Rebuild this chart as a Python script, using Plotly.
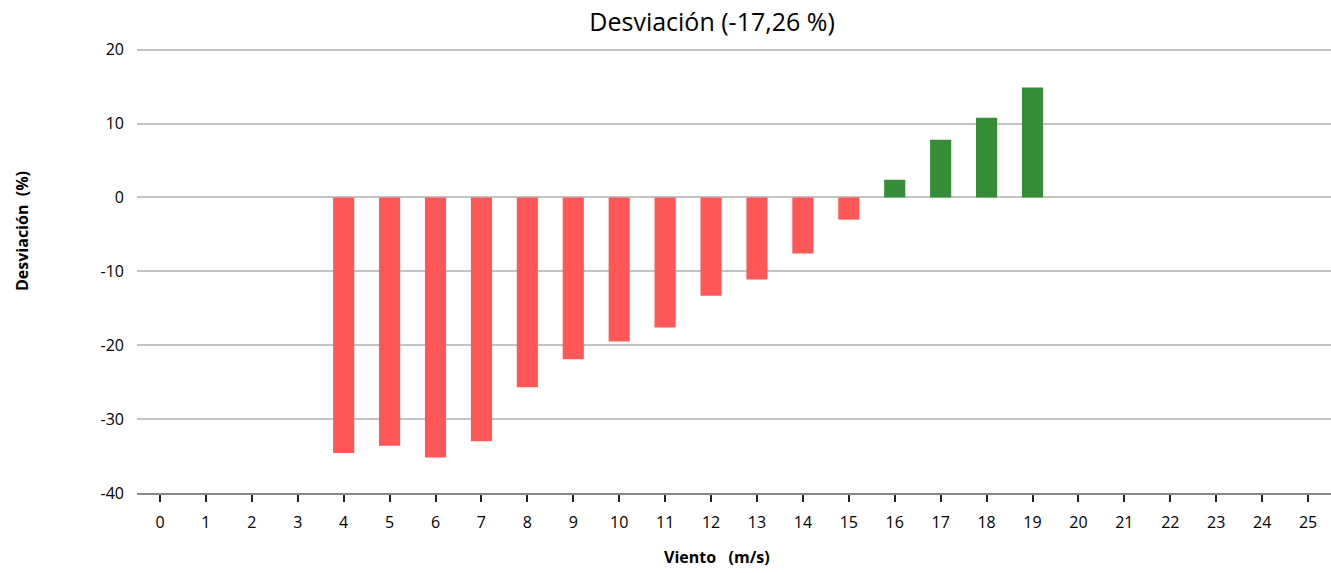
import plotly.graph_objects as go

wind = list(range(0, 26))
bar_wind = [4, 5, 6, 7, 8, 9, 10, 11, 12, 13, 14, 15, 16, 17, 18, 19]
deviation = [-34.6, -33.6, -35.2, -33.0, -25.7, -21.9, -19.5, -17.6, -13.3, -11.1, -7.6, -3.0, 2.4, 7.8, 10.8, 14.9]
y_ticks = [20, 10, 0, -10, -20, -30, -40]
title = "Desviación (-17,26 %)"
x_title = "Viento   (m/s)"
y_title = "Desviación  (%)"

colors = ["#FF5757" if v < 0 else "#368D37" for v in deviation]

fig = go.Figure(go.Bar(x=bar_wind, y=deviation, marker=dict(color=colors, line=dict(width=0)), width=0.46))

font = "Open Sans, Noto Sans, sans-serif"
fig.update_layout(
    width=1331, height=573,
    margin=dict(l=137, r=0, t=46, b=80, autoexpand=False),
    plot_bgcolor="white", paper_bgcolor="white",
    showlegend=False,
    title=dict(text=title, x=0.535, xanchor="center", y=0.962, yanchor="middle",
               font=dict(family=font, size=25, color="#000")),
    font=dict(family=font, color="#000"),
    annotations=[
        dict(text="<b>" + x_title + "</b>", xref="paper", yref="paper",
             x=(717 - 137) / 1194, y=-(557 - 493) / 447, xanchor="center", yanchor="middle",
             showarrow=False, font=dict(size=16, family=font, color="#000")),
        dict(text="<b>" + y_title + "</b>", xref="paper", yref="paper",
             x=-(137 - 22) / 1194, y=(493 - 231) / 447, xanchor="center", yanchor="middle",
             textangle=-90, showarrow=False, font=dict(size=16, family=font, color="#000")),
    ],
)
fig.update_xaxes(
    range=[-0.5, 25.5], tickmode="array", tickvals=wind, ticktext=[str(w) for w in wind],
    showgrid=False, zeroline=False, showline=True, linecolor="#888", linewidth=2,
    ticks="outside", ticklen=7, tickwidth=2, tickcolor="#222", ticklabelstandoff=7,
    tickfont=dict(size=16, family=font), automargin=False,
)
fig.update_yaxes(
    range=[-40, 20.5], tickmode="array", tickvals=y_ticks, ticktext=[str(t) for t in y_ticks],
    showgrid=True, gridcolor="#C3C3C3", gridwidth=2, zeroline=False, showline=False,
    ticks="", ticklabelstandoff=12, tickfont=dict(size=16, family=font), automargin=False,
)
fig.write_html("out.html", config={"displayModeBar": False},
               post_script="document.body.style.margin='0';")
